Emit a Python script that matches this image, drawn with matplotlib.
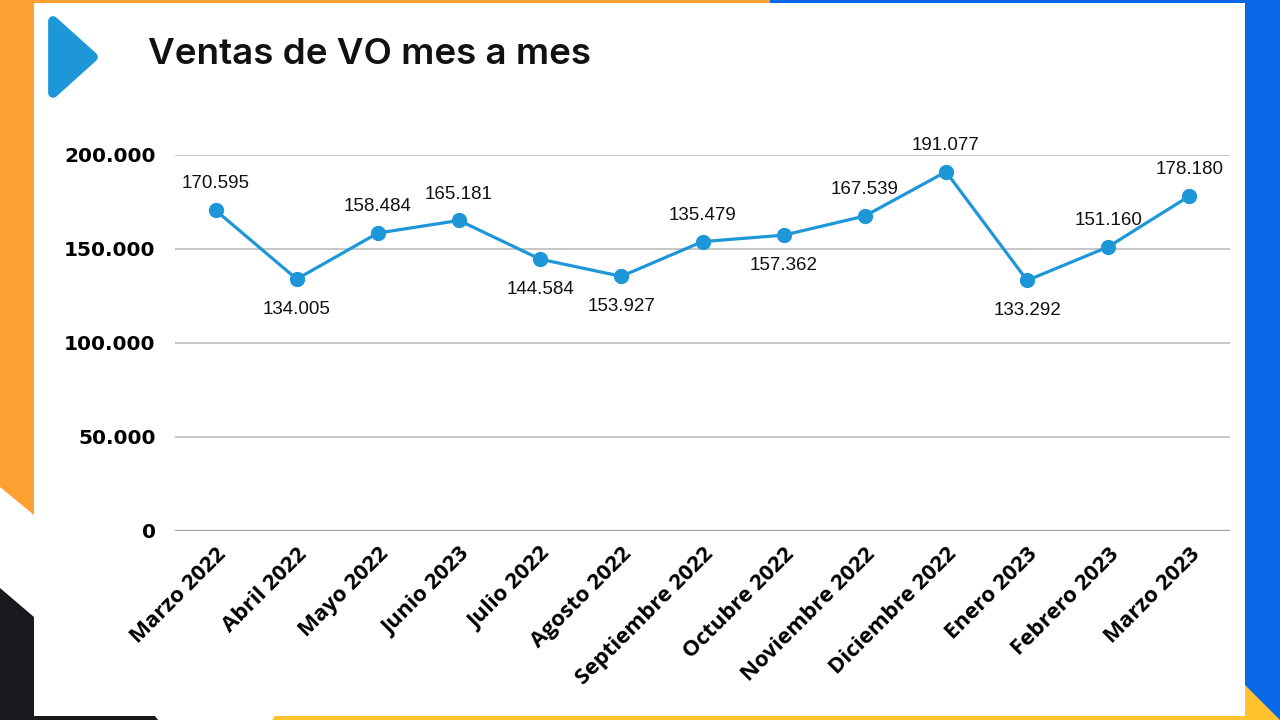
#!/usr/bin/env python3
"""Ventas de VO mes a mes -- grafico de linea con marco decorativo."""
import matplotlib
matplotlib.use("Agg")
import matplotlib.pyplot as plt
import matplotlib.patches as mpatches

# --------------------------------------------------------------------------
# Datos
# --------------------------------------------------------------------------
meses = ["Marzo 2022", "Abril 2022", "Mayo 2022", "Junio 2023", "Julio 2022",
         "Agosto 2022", "Septiembre 2022", "Octubre 2022", "Noviembre 2022",
         "Diciembre 2022", "Enero 2023", "Febrero 2023", "Marzo 2023"]
ventas = [170595, 134005, 158484, 165181, 144584, 135479, 153927, 157362,
          167539, 191077, 133292, 151160, 178180]
# etiquetas tal como aparecen en la imagen (agosto/septiembre cruzadas)
etiquetas = ["170.595", "134.005", "158.484", "165.181", "144.584", "153.927",
             "135.479", "157.362", "167.539", "191.077", "133.292", "151.160",
             "178.180"]
arriba = [True, False, True, True, False, False, True, False, True, True,
          False, True, True]
yticks = [0, 50000, 100000, 150000, 200000]
ytick_labels = ["0", "50.000", "100.000", "150.000", "200.000"]

LINE_BLUE = "#1e97d9"
ORANGE = "#ffa033"
BLUE = "#0767e6"
YELLOW = "#ffc22e"
BLACK = "#19181d"

fig = plt.figure(figsize=(12.8, 7.2), dpi=100, facecolor="white")

# --------------------------------------------------------------------------
# Marco decorativo (coordenadas en pixeles)
# --------------------------------------------------------------------------
bg = fig.add_axes([0, 0, 1, 1])
bg.set_xlim(0, 1280)
bg.set_ylim(720, 0)
bg.axis("off")
shapes = [
    ([(0, 0), (770, 0), (770, 3), (0, 3)], ORANGE),
    ([(770, 0), (1280, 0), (1280, 3), (770, 3)], BLUE),
    ([(0, 0), (34, 0), (34, 515), (0, 487)], ORANGE),
    ([(0, 588), (34, 617), (34, 720), (0, 720)], BLACK),
    ([(0, 716), (155, 716), (158, 720), (0, 720)], BLACK),
    ([(275, 716), (1245, 716), (1245, 720), (272, 720)], YELLOW),
    ([(1245, 0), (1280, 0), (1280, 720), (1245, 720)], BLUE),
    ([(1245, 685), (1280, 720), (1245, 720)], YELLOW),
]
for pts, col in shapes:
    bg.add_patch(mpatches.Polygon(pts, closed=True, facecolor=col,
                                  edgecolor="none"))
# triangulo azul redondeado junto al titulo
bg.add_patch(mpatches.Polygon([(53, 21), (53, 93), (93, 57)], closed=True,
                              facecolor=LINE_BLUE, edgecolor=LINE_BLUE,
                              linewidth=7, joinstyle="round"))
bg.text(148, 55, "Ventas de VO mes a mes", fontsize=26.5, fontweight="semibold",
        family="Inter", color="#111111", va="center", ha="left")

# --------------------------------------------------------------------------
# Grafico
# --------------------------------------------------------------------------
ax = fig.add_axes([175 / 1280, 1 - 531 / 720, 1055 / 1280, 376 / 720])
ax.set_facecolor("none")
x = list(range(len(meses)))
ax.plot(x, ventas, color=LINE_BLUE, linewidth=2.3, marker="o",
        markersize=10, zorder=3, clip_on=False)

for xi, v, lab, up in zip(x, ventas, etiquetas, arriba):
    ax.annotate(lab, (xi, v), xytext=(0, 19 if up else -22),
                textcoords="offset points", ha="center", va="center",
                fontsize=13.5, family="Liberation Sans", color="#111111",
                annotation_clip=False)

ax.set_xlim(-0.5, len(meses) - 0.5)
ax.set_ylim(0, 200000)
ax.set_yticks(yticks)
ax.set_yticklabels(ytick_labels, fontsize=14.5, fontweight="bold",
                   family="DejaVu Sans")
ax.set_xticks(x)
ax.set_xticklabels(meses, rotation=45, ha="right", rotation_mode="anchor",
                   fontsize=16, fontweight="bold", family="Open Sans")
ax.tick_params(axis="y", length=0, pad=14)
ax.tick_params(axis="x", length=0, pad=9)
ax.grid(axis="y", color="#c6c6c6", linewidth=1.4)
ax.axhline(0, color="#a0a0a0", linewidth=1.6, zorder=2)
for s in ax.spines.values():
    s.set_visible(False)
ax.set_axisbelow(True)

fig.savefig("out.png", dpi=100, facecolor="white")
